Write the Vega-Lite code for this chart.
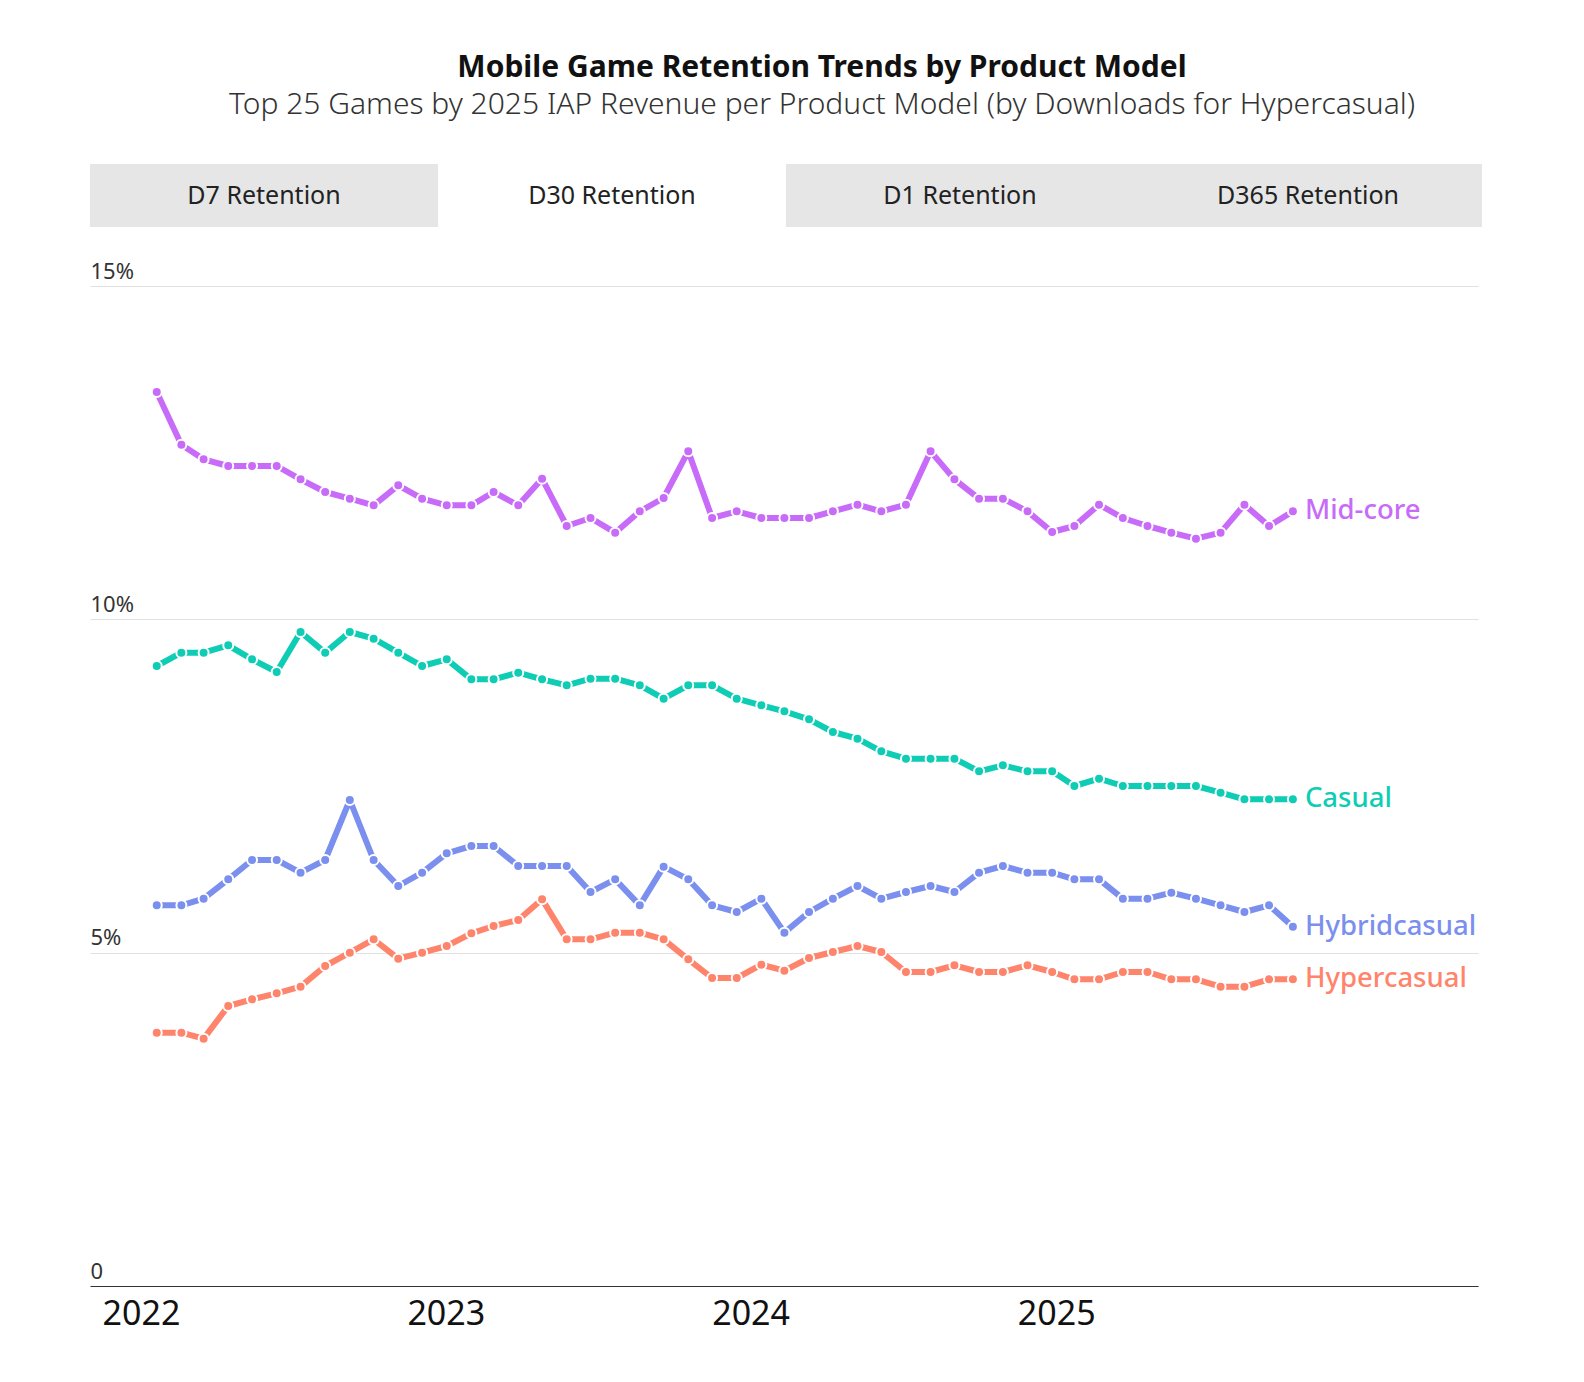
{
  "$schema": "https://vega.github.io/schema/vega-lite/v6.json",
  "background": "white",
  "padding": {"left": 90, "right": 10, "top": 53, "bottom": 10},
  "title": {
    "text": "Mobile Game Retention Trends by Product Model",
    "subtitle": "Top 25 Games by 2025 IAP Revenue per Product Model (by Downloads for Hypercasual)",
    "anchor": "middle",
    "dx": 36,
    "font": "Noto Sans",
    "fontSize": 30,
    "fontWeight": "bold",
    "color": "#111111",
    "subtitleFont": "Noto Sans",
    "subtitleFontSize": 30,
    "subtitleFontWeight": 300,
    "subtitleColor": "#333333",
    "subtitlePadding": 7,
    "offset": 44
  },
  "spacing": 33,
  "vconcat": [
    {
      "width": 1392,
      "height": 63,
      "data": {"values": [
        {"tab": "D7 Retention", "active": "no"},
        {"tab": "D30 Retention", "active": "yes"},
        {"tab": "D1 Retention", "active": "no"},
        {"tab": "D365 Retention", "active": "no"}
      ]},
      "layer": [
        {
          "mark": {"type": "bar"},
          "encoding": {
            "x": {"field": "tab", "type": "nominal", "sort": null, "axis": null, "scale": {"paddingInner": 0, "paddingOuter": 0}},
            "color": {"condition": {"test": "datum.active == 'yes'", "value": "#ffffff"}, "value": "#e6e6e6"}
          }
        },
        {
          "mark": {"type": "text", "fontSize": 25, "color": "#222222", "font": "Noto Sans"},
          "encoding": {
            "x": {"field": "tab", "type": "nominal", "sort": null, "axis": null},
            "text": {"field": "tab"}
          }
        }
      ]
    },
    {
      "width": 1388,
      "height": 1000,
      "layer": [
        {
          "data": {"values": [
            {"year": "2022-01-01"}, {"year": "2023-01-01"}, {"year": "2024-01-01"}, {"year": "2025-01-01"}
          ]},
          "mark": {"type": "rule", "opacity": 0},
          "encoding": {
            "x": {
              "field": "year", "type": "temporal",
              "scale": {"type": "utc", "domain": [{"year": 2021, "month": 11, "date": 1, "utc": true}, {"year": 2026, "month": 5, "date": 21, "utc": true}]},
              "axis": {
                "format": "%Y",
                "values": [
                  {"year": 2022, "month": 1, "date": 1, "utc": true},
                  {"year": 2023, "month": 1, "date": 1, "utc": true},
                  {"year": 2024, "month": 1, "date": 1, "utc": true},
                  {"year": 2025, "month": 1, "date": 1, "utc": true}
                ],
                "grid": false, "ticks": false, "domain": true, "domainColor": "#333333", "domainWidth": 1.2,
                "labelFontSize": 34, "labelColor": "#111111", "labelPadding": 11, "labelFlush": false, "labelOverlap": false,
                "title": null
              }
            }
          }
        },
        {
          "data": {"values": [
            {"month": "2022-01-01", "Mid-core": 13.41, "Casual": 9.30, "Hybridcasual": 5.71, "Hypercasual": 3.80},
            {"month": "2022-02-01", "Mid-core": 12.62, "Casual": 9.50, "Hybridcasual": 5.71, "Hypercasual": 3.80},
            {"month": "2022-03-01", "Mid-core": 12.40, "Casual": 9.50, "Hybridcasual": 5.81, "Hypercasual": 3.71},
            {"month": "2022-04-01", "Mid-core": 12.30, "Casual": 9.61, "Hybridcasual": 6.10, "Hypercasual": 4.20},
            {"month": "2022-05-01", "Mid-core": 12.30, "Casual": 9.40, "Hybridcasual": 6.39, "Hypercasual": 4.30},
            {"month": "2022-06-01", "Mid-core": 12.30, "Casual": 9.21, "Hybridcasual": 6.39, "Hypercasual": 4.39},
            {"month": "2022-07-01", "Mid-core": 12.10, "Casual": 9.81, "Hybridcasual": 6.20, "Hypercasual": 4.49},
            {"month": "2022-08-01", "Mid-core": 11.91, "Casual": 9.50, "Hybridcasual": 6.39, "Hypercasual": 4.80},
            {"month": "2022-09-01", "Mid-core": 11.81, "Casual": 9.81, "Hybridcasual": 7.29, "Hypercasual": 5.00},
            {"month": "2022-10-01", "Mid-core": 11.71, "Casual": 9.71, "Hybridcasual": 6.39, "Hypercasual": 5.20},
            {"month": "2022-11-01", "Mid-core": 12.01, "Casual": 9.50, "Hybridcasual": 6.00, "Hypercasual": 4.91},
            {"month": "2022-12-01", "Mid-core": 11.81, "Casual": 9.30, "Hybridcasual": 6.20, "Hypercasual": 5.00},
            {"month": "2023-01-01", "Mid-core": 11.71, "Casual": 9.40, "Hybridcasual": 6.49, "Hypercasual": 5.10},
            {"month": "2023-02-01", "Mid-core": 11.71, "Casual": 9.10, "Hybridcasual": 6.60, "Hypercasual": 5.29},
            {"month": "2023-03-01", "Mid-core": 11.91, "Casual": 9.10, "Hybridcasual": 6.60, "Hypercasual": 5.40},
            {"month": "2023-04-01", "Mid-core": 11.71, "Casual": 9.20, "Hybridcasual": 6.30, "Hypercasual": 5.49},
            {"month": "2023-05-01", "Mid-core": 12.11, "Casual": 9.10, "Hybridcasual": 6.30, "Hypercasual": 5.80},
            {"month": "2023-06-01", "Mid-core": 11.40, "Casual": 9.01, "Hybridcasual": 6.30, "Hypercasual": 5.20},
            {"month": "2023-07-01", "Mid-core": 11.52, "Casual": 9.11, "Hybridcasual": 5.91, "Hypercasual": 5.20},
            {"month": "2023-08-01", "Mid-core": 11.30, "Casual": 9.11, "Hybridcasual": 6.10, "Hypercasual": 5.30},
            {"month": "2023-09-01", "Mid-core": 11.62, "Casual": 9.01, "Hybridcasual": 5.71, "Hypercasual": 5.30},
            {"month": "2023-10-01", "Mid-core": 11.82, "Casual": 8.81, "Hybridcasual": 6.29, "Hypercasual": 5.20},
            {"month": "2023-11-01", "Mid-core": 12.52, "Casual": 9.01, "Hybridcasual": 6.10, "Hypercasual": 4.90},
            {"month": "2023-12-01", "Mid-core": 11.52, "Casual": 9.01, "Hybridcasual": 5.71, "Hypercasual": 4.62},
            {"month": "2024-01-01", "Mid-core": 11.62, "Casual": 8.81, "Hybridcasual": 5.61, "Hypercasual": 4.62},
            {"month": "2024-02-01", "Mid-core": 11.52, "Casual": 8.71, "Hybridcasual": 5.81, "Hypercasual": 4.82},
            {"month": "2024-03-01", "Mid-core": 11.52, "Casual": 8.62, "Hybridcasual": 5.30, "Hypercasual": 4.73},
            {"month": "2024-04-01", "Mid-core": 11.52, "Casual": 8.50, "Hybridcasual": 5.61, "Hypercasual": 4.92},
            {"month": "2024-05-01", "Mid-core": 11.62, "Casual": 8.31, "Hybridcasual": 5.81, "Hypercasual": 5.01},
            {"month": "2024-06-01", "Mid-core": 11.72, "Casual": 8.21, "Hybridcasual": 6.00, "Hypercasual": 5.10},
            {"month": "2024-07-01", "Mid-core": 11.62, "Casual": 8.02, "Hybridcasual": 5.81, "Hypercasual": 5.01},
            {"month": "2024-08-01", "Mid-core": 11.72, "Casual": 7.91, "Hybridcasual": 5.91, "Hypercasual": 4.71},
            {"month": "2024-09-01", "Mid-core": 12.52, "Casual": 7.91, "Hybridcasual": 6.00, "Hypercasual": 4.71},
            {"month": "2024-10-01", "Mid-core": 12.10, "Casual": 7.91, "Hybridcasual": 5.91, "Hypercasual": 4.81},
            {"month": "2024-11-01", "Mid-core": 11.81, "Casual": 7.72, "Hybridcasual": 6.20, "Hypercasual": 4.71},
            {"month": "2024-12-01", "Mid-core": 11.81, "Casual": 7.81, "Hybridcasual": 6.30, "Hypercasual": 4.71},
            {"month": "2025-01-01", "Mid-core": 11.62, "Casual": 7.72, "Hybridcasual": 6.20, "Hypercasual": 4.81},
            {"month": "2025-02-01", "Mid-core": 11.31, "Casual": 7.72, "Hybridcasual": 6.20, "Hypercasual": 4.71},
            {"month": "2025-03-01", "Mid-core": 11.40, "Casual": 7.50, "Hybridcasual": 6.10, "Hypercasual": 4.60},
            {"month": "2025-04-01", "Mid-core": 11.72, "Casual": 7.61, "Hybridcasual": 6.10, "Hypercasual": 4.60},
            {"month": "2025-05-01", "Mid-core": 11.52, "Casual": 7.50, "Hybridcasual": 5.81, "Hypercasual": 4.71},
            {"month": "2025-06-01", "Mid-core": 11.40, "Casual": 7.50, "Hybridcasual": 5.81, "Hypercasual": 4.71},
            {"month": "2025-07-01", "Mid-core": 11.30, "Casual": 7.50, "Hybridcasual": 5.90, "Hypercasual": 4.60},
            {"month": "2025-08-01", "Mid-core": 11.21, "Casual": 7.50, "Hybridcasual": 5.81, "Hypercasual": 4.60},
            {"month": "2025-09-01", "Mid-core": 11.30, "Casual": 7.40, "Hybridcasual": 5.71, "Hypercasual": 4.49},
            {"month": "2025-10-01", "Mid-core": 11.72, "Casual": 7.30, "Hybridcasual": 5.61, "Hypercasual": 4.49},
            {"month": "2025-11-01", "Mid-core": 11.40, "Casual": 7.30, "Hybridcasual": 5.71, "Hypercasual": 4.60},
            {"month": "2025-12-01", "Mid-core": 11.62, "Casual": 7.30, "Hybridcasual": 5.39, "Hypercasual": 4.60}
          ]},
          "transform": [
            {"fold": ["Mid-core", "Casual", "Hybridcasual", "Hypercasual"], "as": ["model", "value"]}
          ],
          "encoding": {
            "x": {
              "field": "month", "type": "temporal", "axis": null,
              "scale": {"type": "utc", "domain": [{"year": 2021, "month": 10, "date": 9, "utc": true}, {"year": 2026, "month": 7, "date": 22, "utc": true}]}
            },
            "y": {
              "field": "value", "type": "quantitative",
              "scale": {"domain": [0, 15], "nice": false, "zero": true},
              "axis": {
                "values": [0, 5, 10, 15], "title": null,
                "labelExpr": "datum.value == 0 ? '0' : datum.value + '%'",
                "grid": true, "gridColor": "#e2e2e2", "gridWidth": 1,
                "domain": false, "ticks": false, "tickSize": 0,
                "labelAlign": "left", "labelBaseline": "bottom", "labelPadding": 0, "labelOffset": -3,
                "labelFontSize": 22, "labelColor": "#333333",
                "labelFlush": false, "labelOverlap": false, "labelBound": false
              }
            },
            "color": {
              "field": "model", "type": "nominal", "legend": null,
              "scale": {"domain": ["Mid-core", "Casual", "Hybridcasual", "Hypercasual"], "range": ["#c86bf8", "#0fcdb4", "#7b8fee", "#ff846c"]}
            }
          },
          "layer": [
            {"mark": {"type": "line", "strokeWidth": 6, "strokeJoin": "round", "strokeCap": "round"}},
            {"mark": {"type": "point", "filled": true, "size": 100, "stroke": "white", "strokeWidth": 2, "opacity": 1}},
            {
              "transform": [{"filter": "utcyear(datum.month) == 2025 && utcmonth(datum.month) == 11"}],
              "mark": {"type": "text", "align": "left", "baseline": "middle", "dx": 12, "fontSize": 27.5, "fontWeight": 500, "font": "Noto Sans"},
              "encoding": {"text": {"field": "model"}}
            }
          ]
        }
      ],
      "resolve": {"scale": {"x": "independent"}}
    }
  ],
  "config": {
    "view": {"stroke": null},
    "font": "Noto Sans"
  }
}
